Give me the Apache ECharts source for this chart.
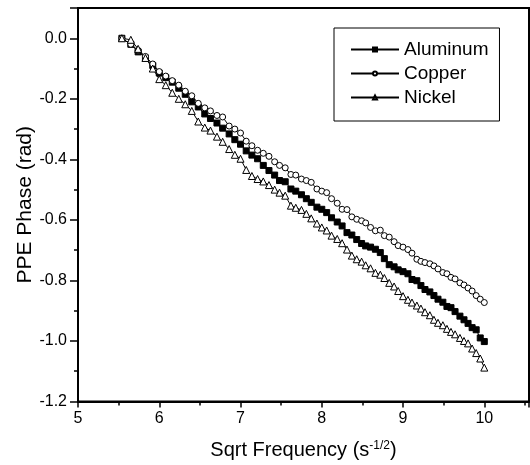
<!DOCTYPE html>
<html>
<head>
  <meta charset="UTF-8">
  <title>PPE Phase vs Sqrt Frequency</title>
  <script src="https://cdn.jsdelivr.net/npm/echarts@6/dist/echarts.min.js"></script>
  <style>
    html, body { margin: 0; padding: 0; background: #fff; }
    #chart { width: 530px; height: 465px; }
  </style>
</head>
<body>
  <div id="chart"></div>
  <script>
    // sqrt frequency values
    var sqrtFreq = [5.54, 5.65, 5.74, 5.83, 5.92, 6.00, 6.08, 6.16, 6.24, 6.32,
      6.40, 6.48, 6.56, 6.63, 6.71, 6.78, 6.86, 6.93, 7.00, 7.07,
      7.14, 7.21, 7.28, 7.35, 7.42, 7.48, 7.55, 7.62, 7.68, 7.75,
      7.81, 7.87, 7.94, 8.00, 8.06, 8.12, 8.19, 8.25, 8.31, 8.37,
      8.43, 8.49, 8.54, 8.60, 8.66, 8.72, 8.77, 8.83, 8.89, 8.94,
      9.00, 9.06, 9.11, 9.17, 9.22, 9.27, 9.33, 9.38, 9.43, 9.49,
      9.54, 9.59, 9.64, 9.70, 9.75, 9.80, 9.85, 9.90, 9.95, 10.00];

    var aluminum = [0.0, -0.02, -0.045, -0.065, -0.09, -0.115, -0.13, -0.145, -0.165, -0.185,
      -0.21, -0.227, -0.25, -0.265, -0.28, -0.297, -0.316, -0.335, -0.35, -0.372,
      -0.386, -0.398, -0.42, -0.437, -0.452, -0.47, -0.474, -0.498, -0.505, -0.517,
      -0.53, -0.542, -0.558, -0.565, -0.576, -0.593, -0.607, -0.62, -0.642, -0.65,
      -0.665, -0.678, -0.686, -0.69, -0.697, -0.708, -0.728, -0.748, -0.755, -0.765,
      -0.771, -0.778, -0.797, -0.801, -0.817, -0.83, -0.838, -0.85, -0.862, -0.872,
      -0.886, -0.89, -0.903, -0.918, -0.93, -0.942, -0.956, -0.963, -0.99, -1.002];

    var copper = [0.0, -0.02, -0.04, -0.06, -0.085, -0.11, -0.125, -0.14, -0.155, -0.175,
      -0.19, -0.215, -0.23, -0.24, -0.255, -0.26, -0.29, -0.30, -0.313, -0.34,
      -0.355, -0.37, -0.38, -0.39, -0.408, -0.42, -0.428, -0.45, -0.452, -0.465,
      -0.47, -0.476, -0.498, -0.505, -0.51, -0.53, -0.545, -0.565, -0.566, -0.59,
      -0.598, -0.603, -0.61, -0.625, -0.636, -0.634, -0.652, -0.657, -0.672, -0.685,
      -0.69, -0.698, -0.71, -0.73, -0.737, -0.741, -0.745, -0.752, -0.762, -0.774,
      -0.778, -0.79, -0.795, -0.808, -0.815, -0.825, -0.835, -0.85, -0.862, -0.873];

    var nickel = [0.0, -0.005, -0.035, -0.065, -0.1, -0.135, -0.155, -0.18, -0.2, -0.218,
      -0.24, -0.275, -0.295, -0.305, -0.325, -0.342, -0.366, -0.385, -0.398, -0.435,
      -0.455, -0.465, -0.473, -0.485, -0.5, -0.51, -0.52, -0.553, -0.56, -0.567,
      -0.58, -0.595, -0.612, -0.625, -0.635, -0.652, -0.663, -0.677, -0.698, -0.718,
      -0.73, -0.738, -0.75, -0.76, -0.775, -0.781, -0.792, -0.808, -0.82, -0.835,
      -0.852, -0.864, -0.873, -0.883, -0.893, -0.905, -0.915, -0.93, -0.94, -0.948,
      -0.96, -0.97, -0.978, -0.99, -1.0, -1.008, -1.025, -1.04, -1.058, -1.088];

    var font = "'Liberation Sans', Arial, sans-serif";

    function pairs(ys) {
      return sqrtFreq.map(function (x, i) { return [x, ys[i]]; });
    }

    function makeSeries(name, ys, symbol, size, fill) {
      return {
        name: name, type: 'line', data: pairs(ys),
        symbol: symbol, symbolSize: size, showAllSymbol: true,
        lineStyle: { color: '#000', width: 1 },
        itemStyle: { color: fill, borderColor: '#000', borderWidth: 1 },
        emphasis: { disabled: true }
      };
    }

    var chart = echarts.init(document.getElementById('chart'));
    chart.setOption({
      animation: false,
      grid: {
        left: 78, right: 1, top: 8, bottom: 63,
        show: true, borderColor: '#000', borderWidth: 2
      },
      legend: {
        orient: 'vertical', left: 334, top: 28,
        padding: [12, 11, 14, 16],
        borderColor: '#000', borderWidth: 1,
        itemWidth: 48, itemHeight: 5, itemGap: 5,
        textStyle: { fontFamily: font, fontSize: 19, color: '#000' },
        data: ['Aluminum', 'Copper', 'Nickel']
      },
      xAxis: {
        type: 'value', min: 5, max: 10.55, interval: 1,
        name: 'Sqrt Frequency (s{sup|-1/2})',
        nameLocation: 'middle', nameGap: 38, nameMoveOverlap: false,
        nameTextStyle: {
          fontFamily: font, fontSize: 20, color: '#000',
          rich: { sup: { fontFamily: font, fontSize: 12, color: '#000', verticalAlign: 'top', padding: [0, 0, 9, 0] } }
        },
        axisLine: { onZero: false, lineStyle: { color: '#000', width: 2 } },
        axisTick: { inside: false, length: 6, lineStyle: { color: '#000', width: 1.5 } },
        minorTick: { show: true, splitNumber: 2, length: 4, lineStyle: { color: '#000', width: 1.5 } },
        axisLabel: { fontFamily: font, fontSize: 16, color: '#000', margin: 9, showMaxLabel: false },
        splitLine: { show: false }
      },
      yAxis: {
        type: 'value', min: -1.2, max: 0.1, interval: 0.2,
        name: 'PPE Phase (rad)',
        nameLocation: 'middle', nameGap: 42, nameRotate: 90, nameMoveOverlap: false,
        nameTextStyle: { fontFamily: font, fontSize: 21, color: '#000' },
        axisLine: { onZero: false, lineStyle: { color: '#000', width: 2 } },
        axisTick: { inside: false, length: 8, lineStyle: { color: '#000', width: 1.5 } },
        minorTick: { show: true, splitNumber: 2, length: 4, lineStyle: { color: '#000', width: 1.5 } },
        axisLabel: {
          fontFamily: font, fontSize: 16, color: '#000', margin: 11, showMaxLabel: false,
          formatter: function (v) { return v.toFixed(1); }
        },
        splitLine: { show: false }
      },
      series: [
        makeSeries('Aluminum', aluminum, 'rect', 6, '#000'),
        makeSeries('Copper', copper, 'circle', 6, '#fff'),
        makeSeries('Nickel', nickel, 'triangle', 7, '#fff')
      ]
    });
  </script>
</body>
</html>
